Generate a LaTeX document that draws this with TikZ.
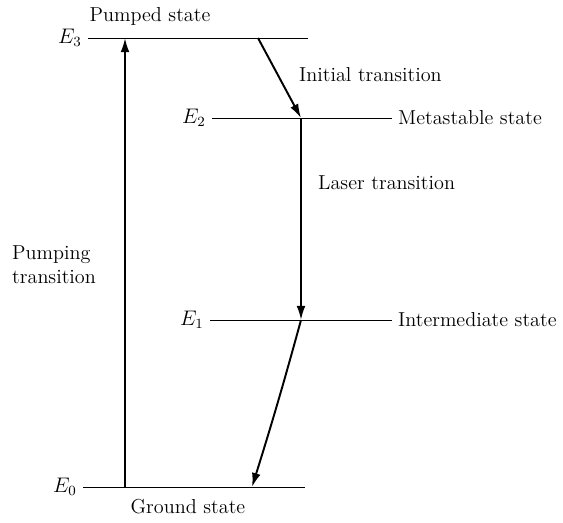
\documentclass[tikz,border=0pt]{standalone}
\usepackage{tikz}
\usetikzlibrary{shapes,arrows,arrows.meta,positioning,calc}

\begin{document}
\begin{tikzpicture}[x=0.02cm,y=-0.02cm,
    font=\fontsize{11.5}{13.5}\selectfont,
    level/.style={line width=0.55pt},
    trans/.style={line width=1.1pt,-{Latex[length=8pt,width=5pt]}}]
  \useasboundingbox (0,0) rectangle (563,522);

  % energy levels
  \coordinate (E3l) at (88,38);  \coordinate (E3r) at (308,38);
  \coordinate (E2l) at (212,118); \coordinate (E2r) at (392,118);
  \coordinate (E1l) at (210,320); \coordinate (E1r) at (392,320);
  \coordinate (E0l) at (83,487);  \coordinate (E0r) at (305,487);
  \draw[level] (E3l) -- (E3r);
  \draw[level] (E2l) -- (E2r);
  \draw[level] (E1l) -- (E1r);
  \draw[level] (E0l) -- (E0r);

  \node[left] (E3) at (E3l) {$E_3$};
  \node[left] (E2) at (E2l) {$E_2$};
  \node[left] (E1) at (E1l) {$E_1$};
  \node[left] (E0) at (E0l) {$E_0$};

  \node (pumped) at (150,16) {Pumped state};
  \node[right] (meta) at (E2r) {Metastable state};
  \node[right] (inter) at (E1r) {Intermediate state};
  \node (ground) at (188,507) {Ground state};

  % transitions
  \coordinate (P0) at (125,487); \coordinate (P3) at (125,38);
  \coordinate (I3) at (258,38);  \coordinate (I2) at (301,118);
  \coordinate (L1) at (301,320);
  \coordinate (G0) at (252,487);
  \draw[trans] (P0) -- (P3);
  \draw[trans] (I3) -- (I2);
  \draw[trans] (I2) -- (L1);
  \draw[trans] (L1) to[bend left=1] (G0);

  \node[right] (init) at (293,75) {Initial transition};
  \node[right] (laser) at (312,183) {Laser transition};
  \node[right,align=left] (pump) at (6,265) {Pumping\\transition};
\end{tikzpicture}
\end{document}
